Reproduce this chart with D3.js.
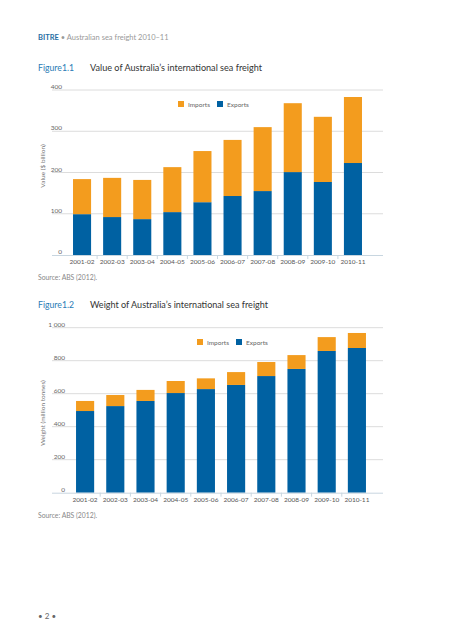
<!DOCTYPE html>
<html><head><meta charset="utf-8">
<script src="https://cdn.jsdelivr.net/npm/d3@7"></script>
<style>
html,body{margin:0;padding:0;background:#fff;}
svg{display:block;font-family:Lato,"Open Sans",sans-serif;}
</style></head>
<body>
<svg id="c" width="450" height="640"></svg>
<script>
const years = ["2001-02","2002-03","2003-04","2004-05","2005-06","2006-07","2007-08","2008-09","2009-10","2010-11"];
// Figure 1.1 value ($ billion)
const valueExports = [99, 92, 87, 104, 128, 143, 155, 201, 177, 223];
const valueImports = [85, 95, 95, 109, 124, 136, 155, 167, 158, 160];
const valueTicks = [0, 100, 200, 300, 400];
// Figure 1.2 weight (million tonnes)
const weightExports = [495, 525, 556, 604, 628, 653, 707, 750, 859, 877];
const weightImports = [61, 67, 67, 73, 65, 78, 85, 84, 84, 91];
const weightTicks = [0, 200, 400, 600, 800, 1000];

const orange = "#F39C1E", blue = "#0061A2";
const svg = d3.select("#c");

svg.append("text").attr("x",38).attr("y",40).attr("font-size",7.5).attr("fill","#999")
  .call(t=>{t.append("tspan").attr("fill","#1f6ea3").attr("font-weight","bold").text("BITRE");
            t.append("tspan").text(" • Australian sea freight 2010–11");});

function chart(opts){
  const g = svg.append("g");
  g.append("text").attr("x",38).attr("y",opts.titleY).attr("font-size",10).attr("fill","#2a7cb5")
    .attr("textLength",36).attr("lengthAdjust","spacingAndGlyphs").text(opts.fig);
  g.append("text").attr("x",90).attr("y",opts.titleY).attr("font-size",10).attr("fill","#333")
    .attr("textLength",opts.titleW).attr("lengthAdjust","spacingAndGlyphs").text(opts.title);
  const y = d3.scaleLinear().domain([0, opts.max]).range([opts.y0, opts.yTop]);
  const x = d3.scaleBand().domain(years).range(opts.xr).paddingInner(0.4).paddingOuter(0.2);
  // grid
  g.selectAll(".grid").data(opts.ticks.filter(d=>d>0)).join("line")
    .attr("x1",52).attr("x2",383).attr("y1",d=>y(d)).attr("y2",d=>y(d))
    .attr("stroke","#dcdcdc").attr("stroke-width",1);
  const ya = d3.axisLeft(y).tickValues(opts.ticks).tickSize(0).tickPadding(0)
    .tickFormat(d=> d>=1000 ? d3.format(",")(d).replace(","," ") : d);
  g.append("g").attr("transform",`translate(${opts.labelX},0)`).call(ya)
    .call(a=>a.select(".domain").remove())
    .call(a=>a.selectAll("text").attr("font-size",6.5).attr("fill","#666").attr("font-family","Lato,sans-serif").attr("dy","-0.2em"));
  // bars
  const stack = years.map((yr,i)=>({yr, ex:opts.ex[i], im:opts.im[i]}));
  g.selectAll(".ex").data(stack).join("rect")
    .attr("x",d=>x(d.yr)).attr("width",x.bandwidth())
    .attr("y",d=>y(d.ex)).attr("height",d=>y(0)-y(d.ex)).attr("fill",blue);
  g.selectAll(".im").data(stack).join("rect")
    .attr("x",d=>x(d.yr)).attr("width",x.bandwidth())
    .attr("y",d=>y(d.ex+d.im)).attr("height",d=>y(d.ex)-y(d.ex+d.im)).attr("fill",orange);
  // x axis
  g.append("line").attr("x1",52).attr("x2",383).attr("y1",y(0)+0.5).attr("y2",y(0)+0.5).attr("stroke","#c8d6e0");
  const step = x.step();
  g.selectAll(".xt").data(years.slice(1)).join("line")
    .attr("x1",d=>x(d)-step*0.2).attr("x2",d=>x(d)-step*0.2)
    .attr("y1",y(0)).attr("y2",y(0)+4).attr("stroke","#c8d6e0");
  g.selectAll(".xl").data(years).join("text")
    .attr("x",d=>x(d)+x.bandwidth()/2).attr("y",y(0)+9).attr("text-anchor","middle")
    .attr("font-size",6.5).attr("fill","#555").text(d=>d);
  // y title
  g.append("text").attr("transform",`translate(${opts.ytX},${opts.ytY}) rotate(-90)`)
    .attr("text-anchor","middle").attr("font-size",6.5).attr("fill","#777").text(opts.ytitle);
  // legend
  const lg = g.append("g").attr("transform",`translate(${opts.legX},${opts.legY})`);
  [["Imports",orange,0],["Exports",blue,39]].forEach(([t,c,dx])=>{
    lg.append("rect").attr("x",dx).attr("y",-3).attr("width",6).attr("height",6).attr("fill",c);
    lg.append("text").attr("x",dx+10).attr("y",2.5).attr("font-size",6.5).attr("fill","#666").text(t);
  });
  svg.append("text").attr("x",38).attr("y",opts.srcY).attr("font-size",6.8).attr("fill","#888").text("Source:  ABS (2012).");
}

chart({fig:"Figure1.1", title:"Value of Australia’s international sea freight", titleY:71, titleW:172,
  max:400, y0:255, yTop:90, ticks:valueTicks, xr:[67,368], labelX:62,
  ex:valueExports, im:valueImports, ytitle:"Value  ($ billion)", ytX:45, ytY:166,
  legX:178, legY:104, srcY:280});
chart({fig:"Figure1.2", title:"Weight of Australia’s international sea freight", titleY:308, titleW:178,
  max:1000, y0:492.7, yTop:327.7, ticks:weightTicks, xr:[70,372], labelX:65,
  ex:weightExports, im:weightImports, ytitle:"Weight  (million tonnes)", ytX:45, ytY:413,
  legX:197, legY:342, srcY:518});

svg.append("text").attr("x",38).attr("y",619).attr("font-size",8).attr("fill","#666").text("• 2 •");
</script>
</body></html>
